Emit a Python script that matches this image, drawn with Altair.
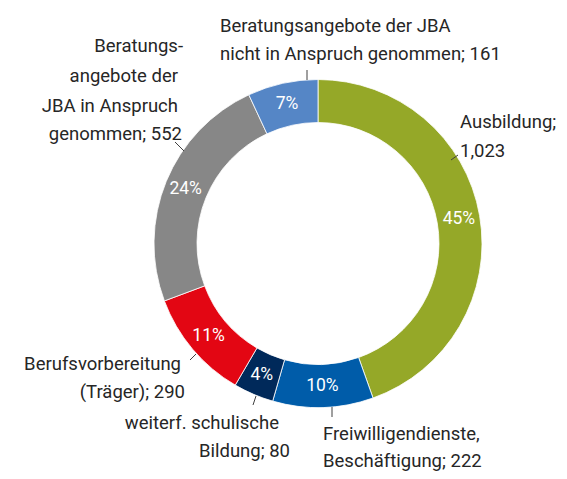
import altair as alt
import pandas as pd

# ---- data ----
categories = [
    "Ausbildung",
    "Freiwilligendienste, Beschäftigung",
    "weiterf. schulische Bildung",
    "Berufsvorbereitung (Träger)",
    "Beratungsangebote der JBA in Anspruch genommen",
    "Beratungsangebote der JBA nicht in Anspruch genommen",
]
counts = [1023, 222, 80, 290, 552, 161]
shares = [45, 10, 4, 11, 24, 7]
colors = ["#95a828", "#005ca9", "#00295a", "#e30613", "#878787", "#5586c6"]

label_lines = [
    ["Ausbildung;", "1,023"],
    ["Freiwilligendienste,", "Beschäftigung; 222"],
    ["weiterf. schulische", "Bildung; 80"],
    ["Berufsvorbereitung", "(Träger); 290"],
    ["Beratungs-", "angebote der", "JBA in Anspruch", "genommen; 552"],
    ["Beratungsangebote der JBA", "nicht in Anspruch genommen; 161"],
]

# ---- layout (pixels inside the chart) ----
W, H = 551, 463
CX, CY = 310, 235.5
R_OUT, R_IN = 164, 121
FONT = "Roboto, Liberation Sans, sans-serif"

# per label line: x, baseline y, align
line_pos = [
    [(452, 120, "left"), (452, 149, "left")],
    [(315, 432, "left"), (315, 459, "left")],
    [(271, 421, "right"), (282, 449, "right")],
    [(173, 362, "right"), (177, 390, "right")],
    [(175, 44, "right"), (170, 74, "right"), (170, 104, "right"), (174, 132, "right")],
    [(212, 24, "left"), (212, 52, "left")],
]
leaders = [
    (443, 152, 450, 147),
    (324, 399, 324, 409),
    (248, 388, 245, 397),
    (182, 352, 188, 346),
    (167, 134, 176, 143),
    (299, 62, 299, 72),
]

slices = pd.DataFrame({
    "cat": categories,
    "share": shares,
    "order": list(range(len(categories))),
    "pct": [f"{s}%" for s in shares],
})

rows = []
for cat, lines, pos in zip(categories, label_lines, line_pos):
    for t, (x, y, a) in zip(lines, pos):
        rows.append({"cat": cat, "text": t, "lx": x, "ly": y, "align": a})
labels = pd.DataFrame(rows)

lead = pd.DataFrame([
    {"cat": c, "x1": a, "y1": b, "x2": c2, "y2": d}
    for c, (a, b, c2, d) in zip(categories, leaders)
])

color_scale = alt.Scale(domain=categories, range=colors)

ring = alt.Chart(slices).mark_arc(
    radius=R_OUT, radius2=R_IN, stroke="white", strokeWidth=0.8
).encode(
    theta=alt.Theta("share:Q", stack=True),
    order=alt.Order("order:Q"),
    color=alt.Color("cat:N", scale=color_scale, legend=None),
    x=alt.value(CX),
    y=alt.value(CY),
)

pct_text = alt.Chart(slices).mark_text(
    radius=143, font=FONT, fontSize=17.5, color="white"
).encode(
    theta=alt.Theta("share:Q", stack=True),
    order=alt.Order("order:Q"),
    text="pct:N",
    x=alt.value(CX),
    y=alt.value(CY),
)

def label_layer(al):
    return alt.Chart(labels).transform_filter(
        alt.datum.align == al
    ).mark_text(
        font=FONT, fontSize=18.5, color="#262626", align=al, baseline="alphabetic"
    ).encode(
        x=alt.X("lx:Q", scale=None),
        y=alt.Y("ly:Q", scale=None),
        text="text:N",
    )

rules = alt.Chart(lead).mark_rule(color="#404040", strokeWidth=1).encode(
    x=alt.X("x1:Q", scale=None),
    y=alt.Y("y1:Q", scale=None),
    x2="x2:Q",
    y2="y2:Q",
)

chart = alt.layer(ring, pct_text, label_layer("left"), label_layer("right"), rules).properties(
    width=W, height=H, padding=0, autosize=alt.AutoSizeParams(type="none")
).configure_view(stroke=None)

chart.save("out.html", embed_options={"renderer": "svg", "actions": False})
